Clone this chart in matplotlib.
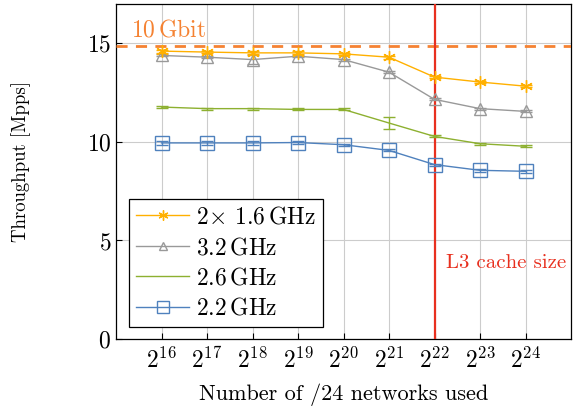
import numpy as np
import matplotlib.pyplot as plt

plt.rcParams['font.family'] = ['cmr10', 'DejaVu Serif']
plt.rcParams['mathtext.fontset'] = 'cm'
plt.rcParams['axes.formatter.use_mathtext'] = True

exponents = [16, 17, 18, 19, 20, 21, 22, 23, 24]
networks = [2 ** e for e in exponents]

dual_16 = [14.61, 14.56, 14.52, 14.52, 14.47, 14.30, 13.29, 13.04, 12.83]
dual_16_err = [0.08, 0.05, 0.08, 0.08, 0.05, 0.08, 0.05, 0.05, 0.05]
ghz_32 = [14.39, 14.30, 14.18, 14.35, 14.18, 13.54, 12.16, 11.69, 11.55]
ghz_32_err = [0.05, 0.05, 0.25, 0.05, 0.05, 0.05, 0.05, 0.05, 0.05]
ghz_26 = [11.77, 11.69, 11.69, 11.65, 11.65, 10.96, 10.28, 9.91, 9.78]
ghz_26_err = [0.05, 0.05, 0.05, 0.05, 0.05, 0.31, 0.05, 0.05, 0.05]
ghz_22 = [9.95, 9.95, 9.95, 9.97, 9.86, 9.57, 8.85, 8.56, 8.51]
ghz_22_err = [0.08, 0.08, 0.08, 0.08, 0.05, 0.05, 0.05, 0.08, 0.08]

line_rate = 14.88
cache_limit = 2 ** 22

fig = plt.figure(figsize=(5.79, 4.07), dpi=100)
ax = fig.add_axes([116 / 579, 1 - 339 / 407, 455 / 579, 335 / 407])

ax.set_xscale('log', base=2)
ax.set_xlim(2 ** 15, 2 ** 25)
ax.set_ylim(0, 17)

ax.grid(True, color='#cccccc', linewidth=0.8)
ax.set_axisbelow(True)

ax.axhline(line_rate, color='#f58232', linestyle=(0, (4, 3)), linewidth=2, zorder=3)
ax.axvline(cache_limit, color='#e8301f', linewidth=1.6, zorder=3)

ax.errorbar(networks, dual_16, yerr=dual_16_err, color='#ffb000', marker=(6, 2, 0),
            markersize=9, markeredgewidth=1, linewidth=1, capsize=4,
            label=r'$2\!\times\,$1.6$\,$GHz', zorder=5)
ax.errorbar(networks, ghz_32, yerr=ghz_32_err, color='#999999', marker='^',
            markerfacecolor='none', markersize=8, linewidth=1, capsize=4,
            label=r'3.2$\,$GHz', zorder=4)
ax.errorbar(networks, ghz_26, yerr=ghz_26_err, color='#8db030', linewidth=1,
            capsize=4, label=r'2.6$\,$GHz', zorder=4)
ax.errorbar(networks, ghz_22, yerr=ghz_22_err, color='#4f81bd', marker='s',
            markerfacecolor='none', markersize=10, linewidth=1, capsize=4,
            label=r'2.2$\,$GHz', zorder=4)

ax.set_xticks(networks)
ax.set_xticklabels([r'$2^{%d}$' % e for e in exponents])
ax.xaxis.set_minor_locator(plt.NullLocator())
ax.set_yticks([0, 5, 10, 15])
ax.tick_params(direction='in', labelsize=17, length=4)
ax.tick_params(axis='x', pad=6)

ax.set_xlabel('Number of /24 networks used', fontsize=16, labelpad=8)
ax.set_ylabel('Throughput [Mpps]', fontsize=13.5)
ax.yaxis.set_label_coords(-0.187, 0.53)

ax.text(2 ** 15.33, 15.1, '10$\\,$Gbit', color='#f58232', fontsize=17, va='bottom')
ax.text(2 ** 24.9, 3.85, 'L3 cache size', color='#e8301f', fontsize=15, ha='right', va='center')

handles, labels = ax.get_legend_handles_labels()
handles = [h[0] for h in handles]
leg = ax.legend(handles, labels, loc='lower left', bbox_to_anchor=(0.0286, 0.036),
                borderaxespad=0, fontsize=17, fancybox=False, framealpha=1,
                edgecolor='black', handlelength=2.25, handletextpad=0.3,
                borderpad=0.3, labelspacing=0.35, markerscale=0.8)
leg.get_frame().set_linewidth(0.9)

for s in ax.spines.values():
    s.set_linewidth(0.9)

fig.savefig('out.png', dpi=100)
